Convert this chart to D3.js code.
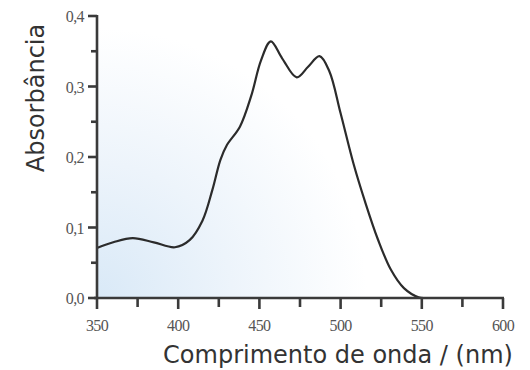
<!DOCTYPE html>
<html lang="pt">
<head>
<meta charset="utf-8" />
<title>Absorbância</title>
<style>
  body { margin: 0; background: #fff; }
  svg { display: block; }
</style>
</head>
<body>
<svg id="viz"></svg>
<script src="https://d3js.org/d3.v7.min.js"></script>
<script>
// comprimento de onda (nm) e absorbância
var wavelength = [350, 360, 372, 385, 398, 407, 415, 421, 426, 430, 438, 445, 451, 457, 464, 473, 480, 487, 493, 500, 508, 515, 523, 531, 539, 548, 552];
var absorbance = [0.071, 0.079, 0.085, 0.079, 0.072, 0.082, 0.110, 0.153, 0.196, 0.217, 0.243, 0.287, 0.337, 0.364, 0.340, 0.313, 0.328, 0.343, 0.322, 0.262, 0.190, 0.137, 0.083, 0.040, 0.014, 0.001, 0.0];
var xTicks = [350, 400, 450, 500, 550, 600];
var xMinor = [375, 425, 475, 525, 575];
var yTicks = [0, 0.1, 0.2, 0.3, 0.4];
var yMinor = [0.05, 0.15, 0.25, 0.35];

var width = 530, height = 370;
var margin = {top: 16, right: 27, bottom: 72, left: 97};
var axisColor = "#3a3a3a";

var svg = d3.select("#viz").attr("width", width).attr("height", height);

var x = d3.scaleLinear().domain([350, 600]).range([margin.left, width - margin.right]);
var y = d3.scaleLinear().domain([0, 0.4]).range([height - margin.bottom, margin.top]);

// fundo azulado no canto inferior esquerdo
var defs = svg.append("defs");
var grad = defs.append("radialGradient")
    .attr("id", "bg")
    .attr("gradientUnits", "userSpaceOnUse")
    .attr("cx", x(350)).attr("cy", y(0))
    .attr("r", 270);
grad.append("stop").attr("offset", "0%").attr("stop-color", "#d9e9f7");
grad.append("stop").attr("offset", "50%").attr("stop-color", "#edf4fb");
grad.append("stop").attr("offset", "100%").attr("stop-color", "#ffffff");

svg.append("rect")
    .attr("x", x(350)).attr("y", y(0.4))
    .attr("width", x(600) - x(350)).attr("height", y(0) - y(0.4))
    .attr("fill", "url(#bg)");

var line = d3.line()
    .x(function(d, i) { return x(wavelength[i]); })
    .y(function(d) { return y(d); })
    .curve(d3.curveCatmullRom.alpha(0.5));

svg.append("path")
    .datum(absorbance)
    .attr("d", line)
    .attr("fill", "none")
    .attr("stroke", "#2b2b2b")
    .attr("stroke-width", 2.2)
    .attr("stroke-linejoin", "round");

var fmt = function(d) { return d3.format(".1f")(d).replace(".", ","); };

// eixos: linhas
svg.append("line")
    .attr("x1", x(350) - 3).attr("x2", x(600) + 1)
    .attr("y1", y(0)).attr("y2", y(0))
    .attr("stroke", axisColor).attr("stroke-width", 2.6);
svg.append("line")
    .attr("x1", x(350)).attr("x2", x(350))
    .attr("y1", y(0.4) - 1).attr("y2", y(0) + 1)
    .attr("stroke", axisColor).attr("stroke-width", 2.6);

// marcas do eixo x
svg.append("g").selectAll("line")
    .data(xTicks.map(function(d) { return {v: d, len: 11}; })
        .concat(xMinor.map(function(d) { return {v: d, len: 9}; })))
    .join("line")
    .attr("x1", function(d) { return x(d.v); })
    .attr("x2", function(d) { return x(d.v); })
    .attr("y1", y(0))
    .attr("y2", function(d) { return y(0) + d.len; })
    .attr("stroke", axisColor).attr("stroke-width", 2.6);

svg.append("g").selectAll("text")
    .data(xTicks)
    .join("text")
    .attr("x", function(d) { return x(d); })
    .attr("y", y(0) + 33)
    .attr("text-anchor", "middle")
    .attr("fill", "#555")
    .style("font-family", "'Liberation Serif', 'DejaVu Serif', serif")
    .style("font-size", "16px")
    .style("letter-spacing", "-0.6px")
    .text(function(d) { return d; });

// marcas do eixo y
svg.append("g").selectAll("line")
    .data(yTicks.map(function(d) { return {v: d, len: 9}; })
        .concat(yMinor.map(function(d) { return {v: d, len: 6}; })))
    .join("line")
    .attr("x1", x(350))
    .attr("x2", function(d) { return x(350) - d.len; })
    .attr("y1", function(d) { return y(d.v); })
    .attr("y2", function(d) { return y(d.v); })
    .attr("stroke", axisColor).attr("stroke-width", 2.6);

svg.append("g").selectAll("text")
    .data(yTicks)
    .join("text")
    .attr("x", x(350) - 13)
    .attr("y", function(d) { return y(d) + 6; })
    .attr("text-anchor", "end")
    .attr("fill", "#555")
    .style("font-family", "'Liberation Serif', 'DejaVu Serif', serif")
    .style("font-size", "16px")
    .style("letter-spacing", "-0.6px")
    .text(fmt);

// títulos
svg.append("text")
    .attr("x", 338)
    .attr("y", 363)
    .attr("text-anchor", "middle")
    .attr("fill", "#333")
    .style("font-family", "'DejaVu Sans', Verdana, sans-serif")
    .style("font-size", "24px")
    .text("Comprimento de onda / (nm)");

svg.append("text")
    .attr("transform", "translate(44,98) rotate(-90)")
    .attr("text-anchor", "middle")
    .attr("fill", "#333")
    .style("font-family", "'DejaVu Sans', Verdana, sans-serif")
    .style("font-size", "24px")
    .text("Absorbância");
</script>
</body>
</html>
